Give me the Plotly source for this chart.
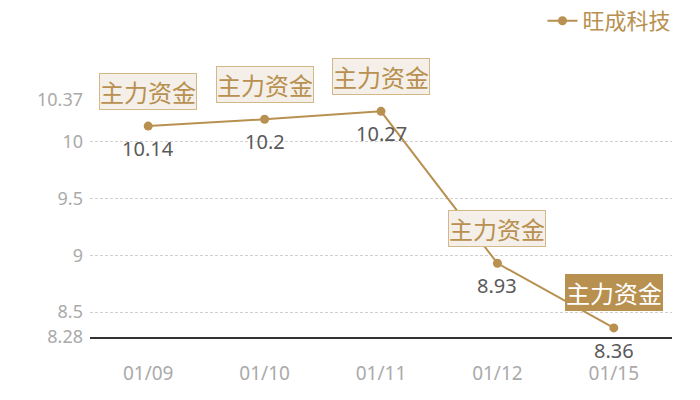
import plotly.graph_objects as go

categories = ["01/09", "01/10", "01/11", "01/12", "01/15"]
values = [10.14, 10.2, 10.27, 8.93, 8.36]
value_labels = ["10.14", "10.2", "10.27", "8.93", "8.36"]
tag_texts = ["主力资金", "主力资金", "主力资金", "主力资金", "主力资金"]
tag_filled = [False, False, False, False, True]
y_tickvals = [8.28, 8.5, 9, 9.5, 10, 10.37]
y_ticktext = ["8.28", "8.5", "9", "9.5", "10", "10.37"]
series_name = "旺成科技"

GOLD = "#b8904f"
FONT = "Noto Sans, Noto Sans CJK SC, sans-serif"
CJK = "Noto Sans CJK SC, sans-serif"

fig = go.Figure()
fig.add_trace(go.Scatter(
    x=categories, y=values, name=series_name,
    mode="lines+markers",
    line=dict(color=GOLD, width=2),
    marker=dict(color=GOLD, size=9),
    cliponaxis=False,
))

for c, v, lab in zip(categories, values, value_labels):
    fig.add_annotation(
        x=c, y=v, text=lab, showarrow=False, yshift=-22, yanchor="middle",
        height=18, valign="middle",
        font=dict(size=20, color="#5a5a5a", family=FONT),
    )

for c, v, t, filled in zip(categories, values, tag_texts, tag_filled):
    fig.add_annotation(
        x=c, y=v, text=t, showarrow=False, yshift=35, yanchor="middle",
        font=dict(size=24, color="#ffffff" if filled else GOLD, family=CJK),
        bgcolor=GOLD if filled else "#f4efe8",
        bordercolor=GOLD if filled else "#d2b887",
        borderwidth=1, borderpad=0,
    )

fig.update_layout(
    width=692, height=392,
    margin=dict(l=82, r=28, t=92, b=63, autoexpand=False),
    plot_bgcolor="white", paper_bgcolor="white",
    font=dict(family=FONT),
    showlegend=True,
    legend=dict(xref="container", yref="container",
                x=0.966, xanchor="right", y=0.967, yanchor="middle",
                font=dict(size=22, color=GOLD, family=CJK),
                bgcolor="rgba(0,0,0,0)", itemwidth=30),
    xaxis=dict(
        range=[-0.5, 4.5],
        showgrid=False, showline=True, linecolor="#333333", linewidth=1.5,
        ticks="", tickfont=dict(size=19, color="#aaaaaa", family=FONT),
        ticklabelstandoff=18, automargin=False,
    ),
    yaxis=dict(
        range=[8.28, 10.37], tickvals=y_tickvals, ticktext=y_ticktext,
        showgrid=True, gridcolor="#d0d0d0", griddash="3px,2px", gridwidth=1,
        zeroline=False, showline=False, ticks="",
        tickfont=dict(size=18, color="#aaaaaa", family=FONT),
        ticklabelstandoff=6, automargin=False,
    ),
)

fig.write_html("out.html")
